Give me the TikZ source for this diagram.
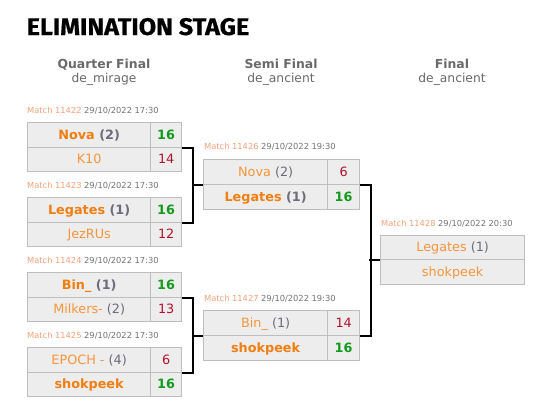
\documentclass[tikz,border=0pt]{standalone}
\usepackage{fontspec}
\setmainfont{DejaVu Sans}
\newfontfamily\titlefont[FakeStretch=1.05, BoldFeatures={FakeBold=0.6}]{Fira Sans}
\definecolor{ornW}{HTML}{F07E10}
\definecolor{ornL}{HTML}{F5953C}
\definecolor{seedc}{HTML}{6C6C7C}
\definecolor{wing}{HTML}{129A1C}
\definecolor{losr}{HTML}{B3122E}
\definecolor{mlab}{HTML}{F4A27A}
\definecolor{datec}{HTML}{737373}
\definecolor{hdrc}{HTML}{6A6A6A}
\definecolor{boxf}{HTML}{EDEDED}
\definecolor{boxd}{HTML}{BEBEBE}
\tikzset{
  cell/.style={draw=boxd, fill=boxf, line width=1.3pt, anchor=north west, inner sep=0pt,
    text height=9pt, text depth=0pt, align=center, font=\fontsize{12.8}{14}\selectfont},
  qname/.style={cell, minimum width=123pt, minimum height=24.5pt},
  qscore/.style={cell, minimum width=31pt, minimum height=24.5pt},
  sname/.style={cell, minimum width=124pt, minimum height=25pt},
  sscore/.style={cell, minimum width=32pt, minimum height=25pt},
  fname/.style={cell, minimum width=144pt, minimum height=24.5pt},
  mlabel/.style={anchor=base west, inner sep=0pt, font=\fontsize{8.3}{10}\selectfont},
  hdr/.style={anchor=base, inner sep=0pt, text=hdrc},
  conn/.style={line width=2pt, black},
}
\newcommand{\winName}[2]{{\bfseries\textcolor{ornW}{#1}\ifx\relax#2\relax\else\ \textcolor{seedc}{(#2)}\fi}}
\newcommand{\losName}[2]{{\textcolor{ornL}{#1}\ifx\relax#2\relax\else\ \textcolor{seedc}{(#2)}\fi}}
\newcommand{\winScore}[1]{{\bfseries\textcolor{wing}{#1}}}
\newcommand{\losScore}[1]{\textcolor{losr}{#1}}
\newcommand{\matchLbl}[2]{\textcolor{mlab}{Match #1} \textcolor{datec}{#2}}
\begin{document}
\begin{tikzpicture}[x=1pt,y=-1pt]
\useasboundingbox[fill=white] (0,0) rectangle (541,410);
% title
\node[anchor=base west, inner sep=0pt, font=\titlefont\bfseries\fontsize{24}{26}\selectfont] (title) at (26.5,35) {ELIMINATION STAGE};
% headers
\node[hdr, font=\bfseries\fontsize{12.4}{14}\selectfont] (hq1) at (104,68) {Quarter Final};
\node[hdr, font=\fontsize{12.3}{14}\selectfont] (hq2) at (104,82.5) {de\_mirage};
\node[hdr, font=\bfseries\fontsize{12.4}{14}\selectfont] (hs1) at (281,68) {Semi Final};
\node[hdr, font=\fontsize{12.3}{14}\selectfont] (hs2) at (281,82.5) {de\_ancient};
\node[hdr, font=\bfseries\fontsize{12.4}{14}\selectfont] (hf1) at (452,68) {Final};
\node[hdr, font=\fontsize{12.3}{14}\selectfont] (hf2) at (452,82.5) {de\_ancient};
% QF 1
\node[mlabel] (l1) at (27,113.5) {\matchLbl{11422}{29/10/2022 17:30}};
\node[qname] (q1a) at (27,122) {\winName{Nova}{2}};
\node[qscore] (q1as) at (150,122) {\winScore{16}};
\node[qname] (q1b) at (27,146.5) {\losName{K10}{}};
\node[qscore] (q1bs) at (150,146.5) {\losScore{14}};
% QF 2
\node[mlabel] (l2) at (27,188.5) {\matchLbl{11423}{29/10/2022 17:30}};
\node[qname] (q2a) at (27,197) {\winName{Legates}{1}};
\node[qscore] (q2as) at (150,197) {\winScore{16}};
\node[qname] (q2b) at (27,221.5) {\losName{JezRUs}{}};
\node[qscore] (q2bs) at (150,221.5) {\losScore{12}};
% QF 3
\node[mlabel] (l3) at (27,263.5) {\matchLbl{11424}{29/10/2022 17:30}};
\node[qname] (q3a) at (27,272) {\winName{Bin\_}{1}};
\node[qscore] (q3as) at (150,272) {\winScore{16}};
\node[qname] (q3b) at (27,296.5) {\losName{Milkers-}{2}};
\node[qscore] (q3bs) at (150,296.5) {\losScore{13}};
% QF 4
\node[mlabel] (l4) at (27,338.5) {\matchLbl{11425}{29/10/2022 17:30}};
\node[qname] (q4a) at (27,347) {\losName{EPOCH -}{4}};
\node[qscore] (q4as) at (150,347) {\losScore{6}};
\node[qname] (q4b) at (27,371.5) {\winName{shokpeek}{}};
\node[qscore] (q4bs) at (150,371.5) {\winScore{16}};
% SF 1
\node[mlabel] (l5) at (204,149.5) {\matchLbl{11426}{29/10/2022 19:30}};
\node[sname] (s1a) at (203,158.5) {\losName{Nova}{2}};
\node[sscore] (s1as) at (327,158.5) {\losScore{6}};
\node[sname] (s1b) at (203,183.5) {\winName{Legates}{1}};
\node[sscore] (s1bs) at (327,183.5) {\winScore{16}};
% SF 2
\node[mlabel] (l6) at (204,301.5) {\matchLbl{11427}{29/10/2022 19:30}};
\node[sname] (s2a) at (203,310) {\losName{Bin\_}{1}};
\node[sscore] (s2as) at (327,310) {\losScore{14}};
\node[sname] (s2b) at (203,335) {\winName{shokpeek}{}};
\node[sscore] (s2bs) at (327,335) {\winScore{16}};
% Final
\node[mlabel] (l7) at (381,226) {\matchLbl{11428}{29/10/2022 20:30}};
\node[fname] (fa) at (380,234.5) {\losName{Legates}{1}};
\node[fname] (fb) at (380,259) {\losName{shokpeek}{}};
% connectors
\draw[conn] (q1as.south east) -- ++(11,0) |- (q2as.south east);
\draw[conn] (s1a.south west) -- ++(-11,0);
\draw[conn] (q3as.south east) -- ++(11,0) |- (q4as.south east);
\draw[conn] (s2a.south west) -- ++(-11,0);
\draw[conn] (s1as.south east) -- ++(10.5,0) |- (s2as.south east);
\draw[conn] (fa.south west) -- ++(-11,0);
\end{tikzpicture}
\end{document}
